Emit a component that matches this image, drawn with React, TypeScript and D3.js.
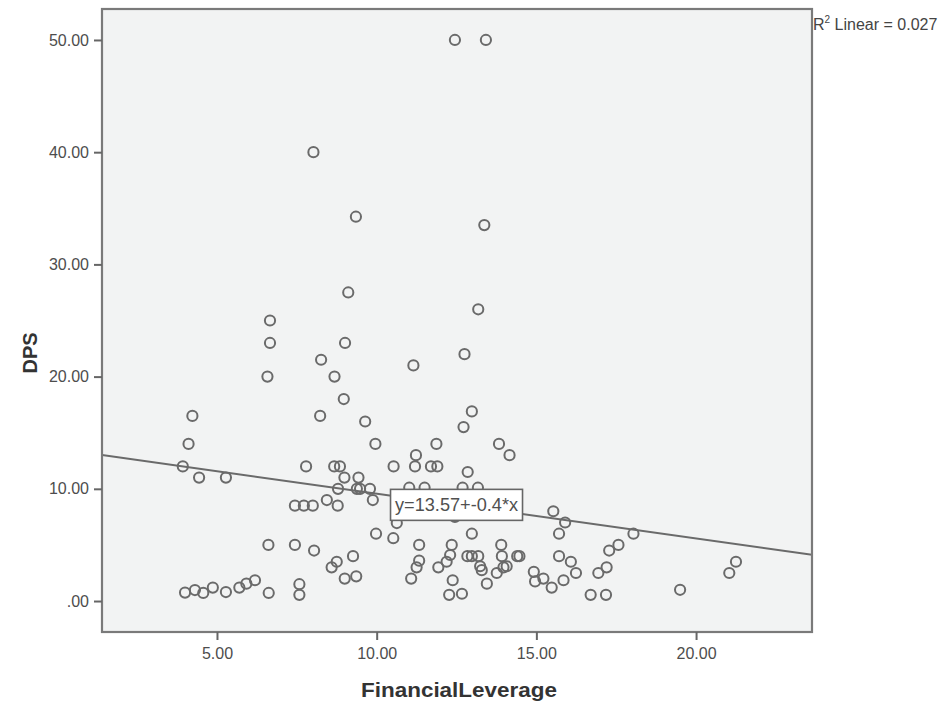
import React, { useEffect, useRef } from "react";
import * as d3 from "d3";

// FinancialLeverage (x) and DPS (y) for each case
const leverage = [
  12.45, 13.42, 8.02, 9.35, 13.37, 9.11, 13.18,
  6.66, 6.66, 9.01, 12.75, 8.26, 11.15, 6.58, 8.68, 8.97,
  4.23, 8.23, 12.98, 9.64, 12.72,
  4.11, 9.96, 11.87, 13.83, 11.23, 14.16,
  3.93, 7.79, 8.67, 8.85, 10.53, 11.2, 11.7, 11.9, 12.85,
  4.44, 5.28, 8.99, 9.43,
  8.79, 9.38, 9.48, 9.79, 11.02, 11.5, 12.69, 13.17,
  8.44, 9.88,
  7.44, 7.72, 8.0, 8.78,
  15.53, 12.45, 15.9, 10.63,
  9.98, 12.98, 15.71, 18.04,
  10.52,
  6.61, 7.44, 11.33, 12.35, 13.9, 17.57,
  8.04, 17.28,
  9.26, 12.3, 12.84, 12.98, 13.18, 13.92, 14.4, 14.47, 15.71,
  8.75, 11.33, 12.19, 16.08, 21.25,
  8.59, 11.25, 11.93, 13.24, 13.97, 14.07, 17.2, 13.29,
  13.76, 14.92, 16.24, 16.94, 21.04,
  9.0, 9.36, 11.08, 15.22, 12.38, 15.85, 14.96,
  7.58, 13.45, 15.48, 19.5,
  4.0, 4.31, 4.57, 4.87, 5.28, 5.7, 5.92, 6.19,
  6.62, 7.58, 12.27, 12.67, 16.7, 17.18,
];

const dps = [
  50.0, 50.0, 40.0, 34.25, 33.5, 27.5, 26.0,
  25.0, 23.0, 23.0, 22.0, 21.5, 21.0, 20.0, 20.0, 18.0,
  16.5, 16.5, 16.9, 16.0, 15.5,
  14.0, 14.0, 14.0, 14.0, 13.0, 13.0,
  12.0, 12.0, 12.0, 12.0, 12.0, 12.0, 12.0, 12.0, 11.5,
  11.0, 11.0, 11.0, 11.0,
  10.0, 10.0, 10.0, 10.0, 10.1, 10.1, 10.1, 10.1,
  9.0, 9.0,
  8.5, 8.5, 8.5, 8.5,
  8.0, 7.5, 7.0, 6.95,
  6.0, 6.0, 6.0, 6.0,
  5.6,
  5.0, 5.0, 5.0, 5.0, 5.0, 5.0,
  4.5, 4.5,
  4.0, 4.1, 4.0, 4.0, 4.0, 4.0, 4.0, 4.0, 4.0,
  3.5, 3.6, 3.5, 3.5, 3.5,
  3.0, 3.0, 3.0, 3.1, 3.0, 3.1, 3.0, 2.75,
  2.5, 2.6, 2.5, 2.5, 2.5,
  2.0, 2.2, 2.0, 2.0, 1.85, 1.85, 1.75,
  1.5, 1.55, 1.2, 1.0,
  0.75, 0.98, 0.72, 1.2, 0.8, 1.2, 1.55, 1.85,
  0.72, 0.55, 0.55, 0.65, 0.55, 0.55,
];

const yTicks = [0, 10, 20, 30, 40, 50];
const yTickLabels = [".00", "10.00", "20.00", "30.00", "40.00", "50.00"];
const xTicks = [5, 10, 15, 20];
const xTickLabels = ["5.00", "10.00", "15.00", "20.00"];

// Linear fit reported on the chart
const fitIntercept = 13.57;
const fitSlope = -0.4;
const rSquared = "0.027";
const fitLabelAt = 12.5;

const W = 950;
const H = 705;
const plot = { left: 102, right: 812, top: 9, bottom: 632 };
const FONT = "'Liberation Sans', Arial, sans-serif";
const INK = "#6a6a6a";

export default function App() {
  const xAxisRef = useRef<SVGGElement>(null);
  const yAxisRef = useRef<SVGGElement>(null);

  const x = d3.scaleLinear().domain([1.4, 23.63]).range([plot.left, plot.right]);
  const y = d3.scaleLinear().domain([-2.76, 52.76]).range([plot.bottom, plot.top]);

  useEffect(() => {
    const xa = d3
      .axisBottom(x)
      .tickValues(xTicks)
      .tickFormat((_d, i) => xTickLabels[i])
      .tickSize(8)
      .tickPadding(8);
    const ya = d3
      .axisLeft(y)
      .tickValues(yTicks)
      .tickFormat((_d, i) => yTickLabels[i])
      .tickSize(8)
      .tickPadding(5);

    const style = (g: d3.Selection<SVGGElement, unknown, null, undefined>) => {
      g.attr("font-family", FONT).attr("font-size", 16);
      g.select(".domain").remove();
      g.selectAll("line").attr("stroke", "#666").attr("stroke-width", 2);
      g.selectAll("text").attr("fill", "#4d4d4d");
    };

    if (xAxisRef.current) d3.select(xAxisRef.current).call(xa).call(style);
    if (yAxisRef.current) d3.select(yAxisRef.current).call(ya).call(style);
  }, []);

  const [x0, x1] = x.domain();
  const fitLine = d3
    .line<number>()
    .x((v) => x(v))
    .y((v) => y(fitIntercept + fitSlope * v));

  const labelCx = x(fitLabelAt);
  const labelCy = y(fitIntercept + fitSlope * fitLabelAt);
  const boxW = 132;
  const boxH = 31;

  return (
    <svg
      width={W}
      height={H}
      style={{ position: "absolute", left: 0, top: 0, background: "#fff" }}
    >
      <defs>
        <clipPath id="plotClip">
          <rect
            x={plot.left}
            y={plot.top}
            width={plot.right - plot.left}
            height={plot.bottom - plot.top}
          />
        </clipPath>
      </defs>

      <rect
        x={plot.left}
        y={plot.top}
        width={plot.right - plot.left}
        height={plot.bottom - plot.top}
        fill="#f2f3f3"
      />

      <g clipPath="url(#plotClip)">
        <path d={fitLine([x0, x1]) || ""} fill="none" stroke={INK} strokeWidth={2} />
        {leverage.map((lv, i) => (
          <circle
            key={i}
            cx={x(lv)}
            cy={y(dps[i])}
            r={5.1}
            fill="none"
            stroke={INK}
            strokeWidth={2}
          />
        ))}
      </g>

      <rect
        x={plot.left}
        y={plot.top}
        width={plot.right - plot.left}
        height={plot.bottom - plot.top}
        fill="none"
        stroke="#7a7a7a"
        strokeWidth={2.2}
      />

      <g>
        <rect
          x={labelCx - boxW / 2}
          y={labelCy - boxH / 2}
          width={boxW}
          height={boxH}
          fill="#fff"
          stroke="#666"
          strokeWidth={1.6}
        />
        <text
          x={labelCx}
          y={labelCy + 6.5}
          textAnchor="middle"
          fontFamily={FONT}
          fontSize={18}
          fill="#505050"
          textLength={123}
          lengthAdjust="spacingAndGlyphs"
        >
          {`y=${fitIntercept}+${fitSlope}*x`}
        </text>
      </g>

      <g ref={xAxisRef} transform={`translate(0,${plot.bottom})`} />
      <g ref={yAxisRef} transform={`translate(${plot.left},0)`} />

      <text x={plot.right + 1} y={30} fontFamily={FONT} fontSize={16} fill="#444">
        R
        <tspan fontSize={10} dy={-7}>2</tspan>
        <tspan dy={7}>{` Linear = ${rSquared}`}</tspan>
      </text>

      <text
        transform={`translate(37,353) rotate(-90)`}
        textAnchor="middle"
        fontFamily={FONT}
        fontSize={20}
        fontWeight="bold"
        fill="#333"
      >
        DPS
      </text>
      <text
        x={459}
        y={697}
        textAnchor="middle"
        fontFamily={FONT}
        fontSize={20}
        fontWeight="bold"
        fill="#333"
        textLength={196}
        lengthAdjust="spacingAndGlyphs"
      >
        FinancialLeverage
      </text>
    </svg>
  );
}
